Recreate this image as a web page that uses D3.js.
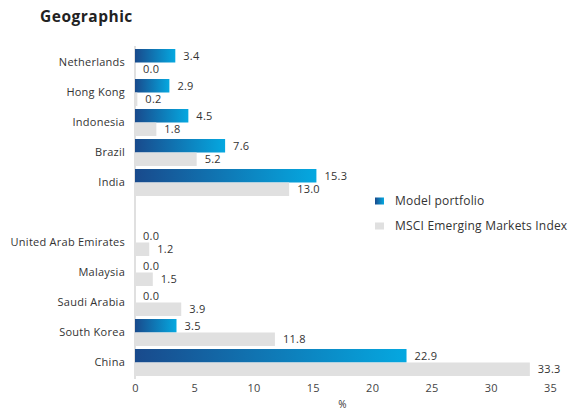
<!DOCTYPE html>
<html>
<head>
<meta charset="utf-8">
<script src="https://cdn.jsdelivr.net/npm/d3@7"></script>
<style>
  body { margin: 0; background: #fff; }
  text { font-family: "Open Sans", sans-serif; fill: #333; letter-spacing: 0.25px; }
</style>
</head>
<body>
<div id="main"></div>
<script>
// categories, top to bottom ("" is the gap row between the two groups)
var countries = ["Netherlands", "Hong Kong", "Indonesia", "Brazil", "India", "",
                 "United Arab Emirates", "Malaysia", "Saudi Arabia", "South Korea", "China"];
var modelPortfolio = [3.4, 2.9, 4.5, 7.6, 15.3, null, 0.0, 0.0, 0.0, 3.5, 22.9];
var msciIndex = [0.0, 0.2, 1.8, 5.2, 13.0, null, 1.2, 1.5, 3.9, 11.8, 33.3];
var xTicks = [0, 5, 10, 15, 20, 25, 30, 35];
var seriesNames = ["Model portfolio", "MSCI Emerging Markets Index"];

var width = 574, height = 412;
var svg = d3.select("#main").append("svg")
    .attr("width", width).attr("height", height);

var defs = svg.append("defs");
var grad = defs.append("linearGradient").attr("id", "blueGrad")
    .attr("x1", "0%").attr("x2", "100%").attr("y1", "0%").attr("y2", "0%");
grad.append("stop").attr("offset", "0%").attr("stop-color", "#194a8c");
grad.append("stop").attr("offset", "100%").attr("stop-color", "#05a8e0");

var x = d3.scaleLinear().domain([0, 35]).range([135, 550]);
var y = d3.scaleBand().domain(countries).range([47.5, 377.5])
    .paddingInner(0.1).paddingOuter(0.05);
var half = y.bandwidth() / 2;

// title
svg.append("text").attr("x", 40).attr("y", 22)
    .style("font-size", "15.5px").style("font-weight", "bold").style("fill", "#222")
    .style("letter-spacing", "0.5px")
    .text("Geographic");

// vertical axis line
svg.append("line").attr("x1", x(0)).attr("x2", x(0))
    .attr("y1", 46).attr("y2", 379)
    .attr("stroke", "#d6d6d6").attr("stroke-width", 1.5);

var rows = countries.map(function(c, i) {
  return {name: c, model: modelPortfolio[i], msci: msciIndex[i]};
}).filter(function(d) { return d.name !== ""; });

// country labels
svg.selectAll(".lab").data(rows).enter().append("text")
    .attr("class", "lab")
    .attr("x", 125)
    .attr("y", function(d) { return y(d.name) + half; })
    .attr("dy", "0.35em")
    .attr("text-anchor", "end")
    .style("font-size", "11px")
    .text(function(d) { return d.name; });

// model bars
svg.selectAll(".mbar").data(rows).enter().append("rect")
    .attr("class", "mbar")
    .attr("x", x(0))
    .attr("y", function(d) { return y(d.name); })
    .attr("width", function(d) { return x(d.model) - x(0); })
    .attr("height", half)
    .attr("fill", "url(#blueGrad)");

// msci bars
svg.selectAll(".gbar").data(rows).enter().append("rect")
    .attr("class", "gbar")
    .attr("x", x(0))
    .attr("y", function(d) { return y(d.name) + half; })
    .attr("width", function(d) { return x(d.msci) - x(0); })
    .attr("height", half)
    .attr("fill", "#e0e0e0");

// value labels
svg.selectAll(".mval").data(rows).enter().append("text")
    .attr("class", "mval")
    .attr("x", function(d) { return x(d.model) + 8; })
    .attr("y", function(d) { return y(d.name) + half / 2; })
    .attr("dy", "0.35em")
    .style("font-size", "11px")
    .text(function(d) { return d.model.toFixed(1); });

svg.selectAll(".gval").data(rows).enter().append("text")
    .attr("class", "gval")
    .attr("x", function(d) { return x(d.msci) + 8; })
    .attr("y", function(d) { return y(d.name) + half * 1.5; })
    .attr("dy", "0.35em")
    .style("font-size", "11px")
    .text(function(d) { return d.msci.toFixed(1); });

// x axis
var xAxis = d3.axisBottom(x).tickValues(xTicks).tickSize(0).tickPadding(0);
var gx = svg.append("g").attr("transform", "translate(0,384)").call(xAxis);
gx.select(".domain").remove();
gx.selectAll("text").style("font-size", "11px").style("fill", "#444")
    .style("font-family", "'Open Sans', sans-serif");

svg.append("text").attr("x", x(17.5)).attr("y", 408)
    .attr("text-anchor", "middle").style("font-size", "10px")
    .text("%");

// legend
var leg = svg.selectAll(".leg").data(seriesNames).enter().append("g")
    .attr("transform", function(d, i) { return "translate(375," + (201 + i * 25) + ")"; });
leg.append("rect").attr("x", 0).attr("y", -3.5).attr("width", 9).attr("height", 7)
    .attr("fill", function(d, i) { return i === 0 ? "url(#blueGrad)" : "#e0e0e0"; });
leg.append("text").attr("x", 20).attr("dy", "0.35em")
    .style("font-size", "12px").style("letter-spacing", "0.2px")
    .text(function(d) { return d; });
</script>
</body>
</html>
